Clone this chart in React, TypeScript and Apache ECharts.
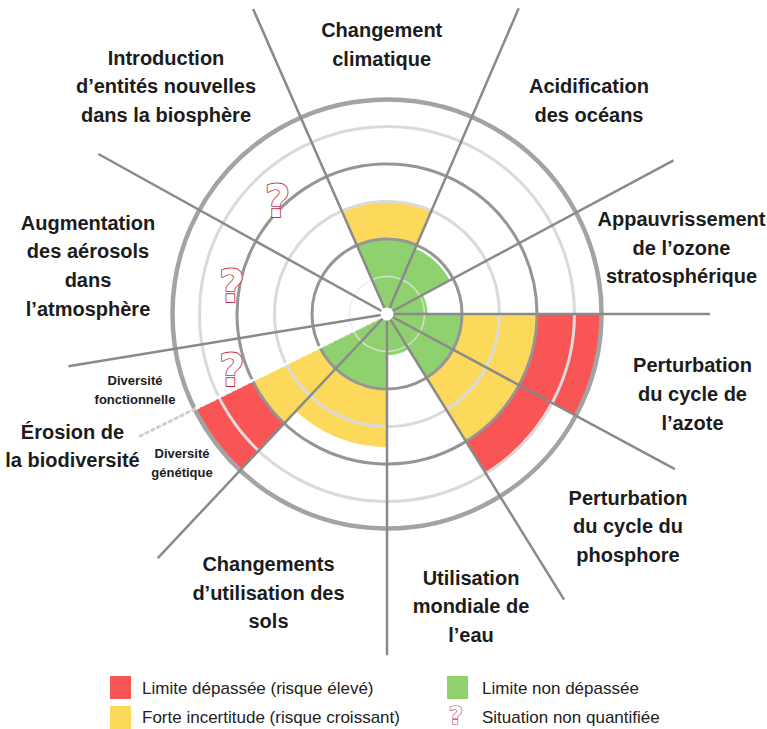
import React, { useEffect, useRef } from 'react';
import * as echarts from 'echarts';

// ---- Data ----
const sectorNames = [
  'Appauvrissement de l’ozone stratosphérique',
  'Acidification des océans',
  'Changement climatique',
  'Introduction d’entités nouvelles dans la biosphère',
  'Augmentation des aérosols dans l’atmosphère',
  'Diversité fonctionnelle',
  'Diversité génétique',
  'Changements d’utilisation des sols',
  'Utilisation mondiale de l’eau',
  'Perturbation du cycle du phosphore',
  'Perturbation du cycle de l’azote',
];
const sectorStart = [0, 28.2, 66.7, 113.7, 151, 189.3, 206.5, 226.8, 270, 301.8, 331.7];
const sectorEnd = [28.2, 66.7, 113.7, 151, 189.3, 206.5, 226.8, 270, 301.8, 331.7, 360];
const greenLevel = [1.08, 1.9, 2, 0, 0, 0, 2, 2, 1.1, 2, 2];
const yellowLevel = [0, 0, 3, 0, 0, 0, 4, 3.55, 0, 4, 4];
const redLevel = [0, 0, 0, 0, 0, 0, 5.72, 0, 0, 5, 5.72];
const quantified = [true, true, true, false, false, false, true, true, true, true, true];

// unquantified sectors: question-mark positions (angle, radius)
const questionAngles = [133, 168, 198.2];
const questionRadii = [4.28, 4.23, 4.36];

const ringRadii = [1, 2, 3, 4, 5, 5.72];
const ringKind = [0, 1, 2, 1, 2, 3];

const spokeAngles = [0, 28.2, 66.7, 113.7, 151, 189.3, 226.8, 270, 301.8, 331.7];
const spokeLengths = [8.61, 8.67, 8.88, 8.88, 8.8, 8.61, 8.93, 9.1, 8.96, 8.72];

const dividerAngle = 206.3;
const dividerInner = 5.72;
const dividerOuter = 7.43;

const labelTexts = [
  'Changement\nclimatique',
  'Introduction\nd’entités nouvelles\ndans la biosphère',
  'Acidification\ndes océans',
  'Appauvrissement\nde l’ozone\nstratosphérique',
  'Augmentation\ndes aérosols\ndans\nl’atmosphère',
  'Perturbation\ndu cycle de\nl’azote',
  'Perturbation\ndu cycle du\nphosphore',
  'Utilisation\nmondiale de\nl’eau',
  'Changements\nd’utilisation des\nsols',
  'Érosion de\nla biodiversité',
];
const subLabelTexts = ['Diversité\nfonctionnelle', 'Diversité\ngénétique'];
const legendLabels = [
  'Limite dépassée (risque élevé)',
  'Forte incertitude (risque croissant)',
  'Limite non dépassée',
  'Situation non quantifiée',
];

// ---- Layout / style ----
const labelPos = [
  [381.7, 44.3], [166, 86.3], [589, 100.5], [681.5, 247.8], [88, 265.7],
  [692.5, 394], [628, 526.3], [471, 606.3], [268.5, 592.5], [72.5, 446],
];
const subLabelPos = [[135, 390], [182, 463]];
const COLORS = ['#8fd16f', '#fdd95b', '#f95555'];
const RING_STYLES = [
  { stroke: 'rgba(232,232,232,0.75)', lineWidth: 1.5 },
  { stroke: '#959595', lineWidth: 3 },
  { stroke: '#dadada', lineWidth: 3 },
  { stroke: '#a3a3a3', lineWidth: 4.5 },
];
const QMARK = '#c0344a';

export default function App() {
  const ref = useRef<HTMLDivElement>(null);
  useEffect(() => {
    const chart = echarts.init(ref.current!, null, { renderer: 'svg' });

    const sectorData: number[][] = [];
    sectorNames.forEach((_, i) => {
      if (!quantified[i]) return;
      const levels = [greenLevel[i], yellowLevel[i], redLevel[i]];
      let prev = 0;
      levels.forEach((lv, k) => {
        if (lv > prev) {
          sectorData.push([prev, lv, sectorStart[i], sectorEnd[i], k]);
          prev = lv;
        }
      });
    });
    const qData = questionAngles.map((a, i) => [questionRadii[i], a]);

    const center = (api: any) => api.coord([0, 0]);
    const scrAngle = (api: any, c: number[], a: number) => {
      const p = api.coord([1, a]);
      return Math.atan2(p[1] - c[1], p[0] - c[0]);
    };
    const pxR = (api: any, c: number[], r: number) => {
      const p = api.coord([r, 0]);
      return Math.hypot(p[0] - c[0], p[1] - c[1]);
    };

    const option: any = {
      animation: false,
      polar: { center: [387, 314], radius: 345 },
      angleAxis: {
        type: 'value', min: 0, max: 360, startAngle: 0, clockwise: false, show: false,
        axisLine: { show: false }, axisTick: { show: false }, axisLabel: { show: false }, splitLine: { show: false },
      },
      radiusAxis: {
        type: 'value', min: 0, max: 9.2, show: false,
        axisLine: { show: false }, axisTick: { show: false }, axisLabel: { show: false }, splitLine: { show: false },
      },
      series: [
        {
          type: 'custom', coordinateSystem: 'polar', z: 1, silent: true,
          data: sectorData,
          renderItem: (p: any, api: any) => {
            const c = center(api);
            const s0 = scrAngle(api, c, api.value(2));
            const s1 = scrAngle(api, c, api.value(3));
            let d = s1 - s0;
            while (d <= -Math.PI) d += 2 * Math.PI;
            while (d > Math.PI) d -= 2 * Math.PI;
            const start = d < 0 ? s0 + d : s0;
            const end = d < 0 ? s0 : s0 + d;
            return {
              type: 'sector',
              shape: { cx: c[0], cy: c[1], r0: pxR(api, c, api.value(0)), r: pxR(api, c, api.value(1)), startAngle: start, endAngle: end, clockwise: true },
              style: { fill: COLORS[api.value(4)] },
            };
          },
        },
        {
          type: 'custom', coordinateSystem: 'polar', z: 2, silent: true,
          data: ringRadii.map((r, i) => [r, 0, ringKind[i]]),
          renderItem: (p: any, api: any) => {
            const c = center(api);
            const st = RING_STYLES[api.value(2)];
            return {
              type: 'circle',
              shape: { cx: c[0], cy: c[1], r: pxR(api, c, api.value(0)) },
              style: { fill: 'none', stroke: st.stroke, lineWidth: st.lineWidth },
            };
          },
        },
        {
          type: 'custom', coordinateSystem: 'polar', z: 3, silent: true,
          data: [[0, dividerAngle, dividerInner, 0], [dividerInner, dividerAngle, dividerOuter, 1]],
          renderItem: (p: any, api: any) => {
            const a = api.coord([api.value(0), api.value(1)]);
            const b = api.coord([api.value(2), api.value(1)]);
            const inner = api.value(3) === 0;
            return {
              type: 'line',
              shape: { x1: a[0], y1: a[1], x2: b[0], y2: b[1] },
              style: { stroke: inner ? '#ffffff' : '#cfcfcf', lineWidth: 3, lineDash: inner ? [3, 3] : [2.5, 4], lineCap: 'round' },
            };
          },
        },
        {
          type: 'custom', coordinateSystem: 'polar', z: 4, silent: true,
          data: spokeAngles.map((a, i) => [spokeLengths[i], a]),
          renderItem: (p: any, api: any) => {
            const c = center(api);
            const e = api.coord([api.value(0), api.value(1)]);
            return {
              type: 'line',
              shape: { x1: c[0], y1: c[1], x2: e[0], y2: e[1] },
              style: { stroke: '#8a8a8a', lineWidth: 2.5 },
            };
          },
        },
        {
          type: 'custom', coordinateSystem: 'polar', z: 5, silent: true,
          data: [[0, 0]],
          renderItem: (p: any, api: any) => {
            const c = center(api);
            return { type: 'circle', shape: { cx: c[0], cy: c[1], r: 6.5 }, style: { fill: '#ffffff' } };
          },
        },
        {
          type: 'custom', coordinateSystem: 'polar', z: 5, silent: true,
          data: qData,
          renderItem: (p: any, api: any) => {
            const pt = api.coord([api.value(0), api.value(1)]);
            return {
              type: 'text', x: pt[0], y: pt[1] + 5,
              style: {
                text: '?', fontSize: 44, fontWeight: 'bold', fontFamily: 'DejaVu Sans', fill: '#ffffff', stroke: QMARK, lineWidth: 1.8,
                align: 'center', verticalAlign: 'middle',
              },
            };
          },
        },
      ],
      graphic: [
        ...labelTexts.map((t, i) => ({
          type: 'text', x: labelPos[i][0], y: labelPos[i][1], silent: true,
          style: {
            text: t, fontSize: 20, fontWeight: 'bold', fontFamily: 'Liberation Sans', fill: '#1c1c1c',
            align: 'center', verticalAlign: 'middle', lineHeight: 28.7,
          },
        })),
        ...subLabelTexts.map((t, i) => ({
          type: 'text', x: subLabelPos[i][0], y: subLabelPos[i][1], silent: true,
          style: {
            text: t, fontSize: 13, fontWeight: 'bold', fontFamily: 'Liberation Sans', fill: '#1c1c1c',
            align: 'center', verticalAlign: 'middle', lineHeight: 18.4,
          },
        })),
        { type: 'rect', shape: { x: 110, y: 676, width: 21, height: 23 }, style: { fill: COLORS[2] } },
        { type: 'rect', shape: { x: 110, y: 706, width: 21, height: 23 }, style: { fill: COLORS[1] } },
        { type: 'rect', shape: { x: 447, y: 676, width: 21, height: 23 }, style: { fill: COLORS[0] } },
        {
          type: 'text', x: 456, y: 715,
          style: { text: '?', fontSize: 25, fontWeight: 'bold', fontFamily: 'DejaVu Sans', fill: '#ffffff', stroke: QMARK, lineWidth: 1.2, align: 'center', verticalAlign: 'middle' },
        },
        ...legendLabels.map((t, i) => ({
          type: 'text', x: i < 2 ? 142 : 482, y: i % 2 === 0 ? 688 : 717, silent: true,
          style: { text: t, fontSize: 17, fontFamily: 'Liberation Sans', fill: '#222222', align: 'left', verticalAlign: 'middle' },
        })),
      ],
    };
    chart.setOption(option);
    return () => chart.dispose();
  }, []);
  return <div ref={ref} style={{ position: 'absolute', left: 0, top: 0, width: 767, height: 729, background: '#ffffff' }} />;
}
